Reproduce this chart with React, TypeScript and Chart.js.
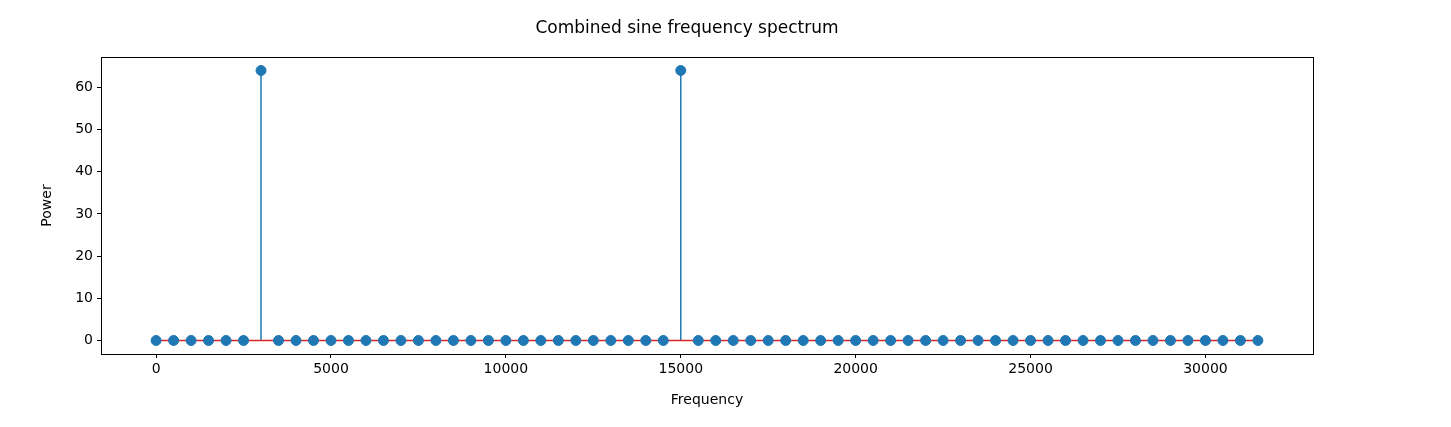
import { useEffect, useRef } from "react";
import Chart from "chart.js/auto";

const frequencies = [
  0, 500, 1000, 1500, 2000, 2500, 3000, 3500, 4000, 4500, 5000, 5500, 6000, 6500, 7000, 7500,
  8000, 8500, 9000, 9500, 10000, 10500, 11000, 11500, 12000, 12500, 13000, 13500, 14000, 14500,
  15000, 15500, 16000, 16500, 17000, 17500, 18000, 18500, 19000, 19500, 20000, 20500, 21000,
  21500, 22000, 22500, 23000, 23500, 24000, 24500, 25000, 25500, 26000, 26500, 27000, 27500,
  28000, 28500, 29000, 29500, 30000, 30500, 31000, 31500,
];
const power = [
  0, 0, 0, 0, 0, 0, 64, 0, 0, 0, 0, 0, 0, 0, 0, 0, 0, 0, 0, 0, 0, 0, 0, 0, 0, 0, 0, 0, 0, 0,
  64, 0, 0, 0, 0, 0, 0, 0, 0, 0, 0, 0, 0, 0, 0, 0, 0, 0, 0, 0, 0, 0, 0, 0, 0, 0, 0, 0, 0, 0,
  0, 0, 0, 0,
];
const xTicks = [0, 5000, 10000, 15000, 20000, 25000, 30000];
const yTicks = [0, 10, 20, 30, 40, 50, 60];

const BLUE = "#1f77b4";
const FONT = "'DejaVu Sans', sans-serif";

export default function App() {
  const ref = useRef<HTMLCanvasElement | null>(null);

  useEffect(() => {
    document.body.style.margin = "0";
    if (!ref.current) return;

    const stems = frequencies
      .map((f, i) => ({ f, v: power[i] }))
      .filter((p) => p.v !== 0)
      .map((p) => ({
        type: "line" as const,
        data: [{ x: p.f, y: 0 }, { x: p.f, y: p.v }],
        borderColor: BLUE,
        borderWidth: 1.5,
        pointRadius: 0,
        order: 2,
      }));

    const frame = {
      id: "frame",
      afterDraw(chart: Chart) {
        const { ctx, chartArea: a } = chart;
        ctx.save();
        ctx.strokeStyle = "#000";
        ctx.lineWidth = 1;
        ctx.strokeRect(a.left + 0.5, a.top + 0.5, a.right - a.left, a.bottom - a.top);
        ctx.fillStyle = "#000";
        ctx.textAlign = "center";
        ctx.textBaseline = "middle";
        ctx.font = `17px ${FONT}`;
        ctx.fillText("Combined sine frequency spectrum", 687, 29);
        ctx.font = `14px ${FONT}`;
        ctx.fillText("Frequency", (a.left + a.right) / 2, 400);
        ctx.translate(47, (a.top + a.bottom) / 2);
        ctx.rotate(-Math.PI / 2);
        ctx.fillText("Power", 0, 0);
        ctx.restore();
      },
    };

    const chart = new Chart(ref.current, {
      type: "scatter",
      data: {
        datasets: [
          ...stems,
          {
            type: "line",
            data: [
              { x: frequencies[0], y: 0 },
              { x: frequencies[frequencies.length - 1], y: 0 },
            ],
            borderColor: "#d62728",
            borderWidth: 1.5,
            pointRadius: 0,
            order: 1,
          },
          {
            data: frequencies.map((f, i) => ({ x: f, y: power[i] })),
            backgroundColor: BLUE,
            borderColor: BLUE,
            pointRadius: 5,
            order: 0,
          },
        ] as any,
      },
      options: {
        responsive: false,
        animation: false,
        layout: { padding: { top: 57, right: 138, left: 0, bottom: 0 } },
        plugins: { legend: { display: false }, tooltip: { enabled: false } },
        scales: {
          x: {
            type: "linear",
            min: -1575,
            max: 33075,
            afterBuildTicks: (s: any) => {
              s.ticks = xTicks.map((v) => ({ value: v }));
            },
            afterFit: (s: any) => {
              s.height = 73;
            },
            grid: { drawOnChartArea: false, drawTicks: true, tickLength: 4, color: "#000" },
            border: { display: false },
            ticks: {
              color: "#000",
              font: { family: FONT, size: 14 },
              maxRotation: 0,
              padding: 3,
              callback: (v: any) => String(v),
            },
          },
          y: {
            min: -3.2,
            max: 67.2,
            afterBuildTicks: (s: any) => {
              s.ticks = yTicks.map((v) => ({ value: v }));
            },
            afterFit: (s: any) => {
              s.width = 101;
            },
            grid: { drawOnChartArea: false, drawTicks: true, tickLength: 4, color: "#000" },
            border: { display: false },
            ticks: { color: "#000", font: { family: FONT, size: 14 }, padding: 4 },
          },
        },
      },
      plugins: [frame],
    });

    return () => chart.destroy();
  }, []);

  return (
    <div style={{ width: 1451, height: 427 }}>
      <canvas ref={ref} width={1451} height={427} />
    </div>
  );
}
